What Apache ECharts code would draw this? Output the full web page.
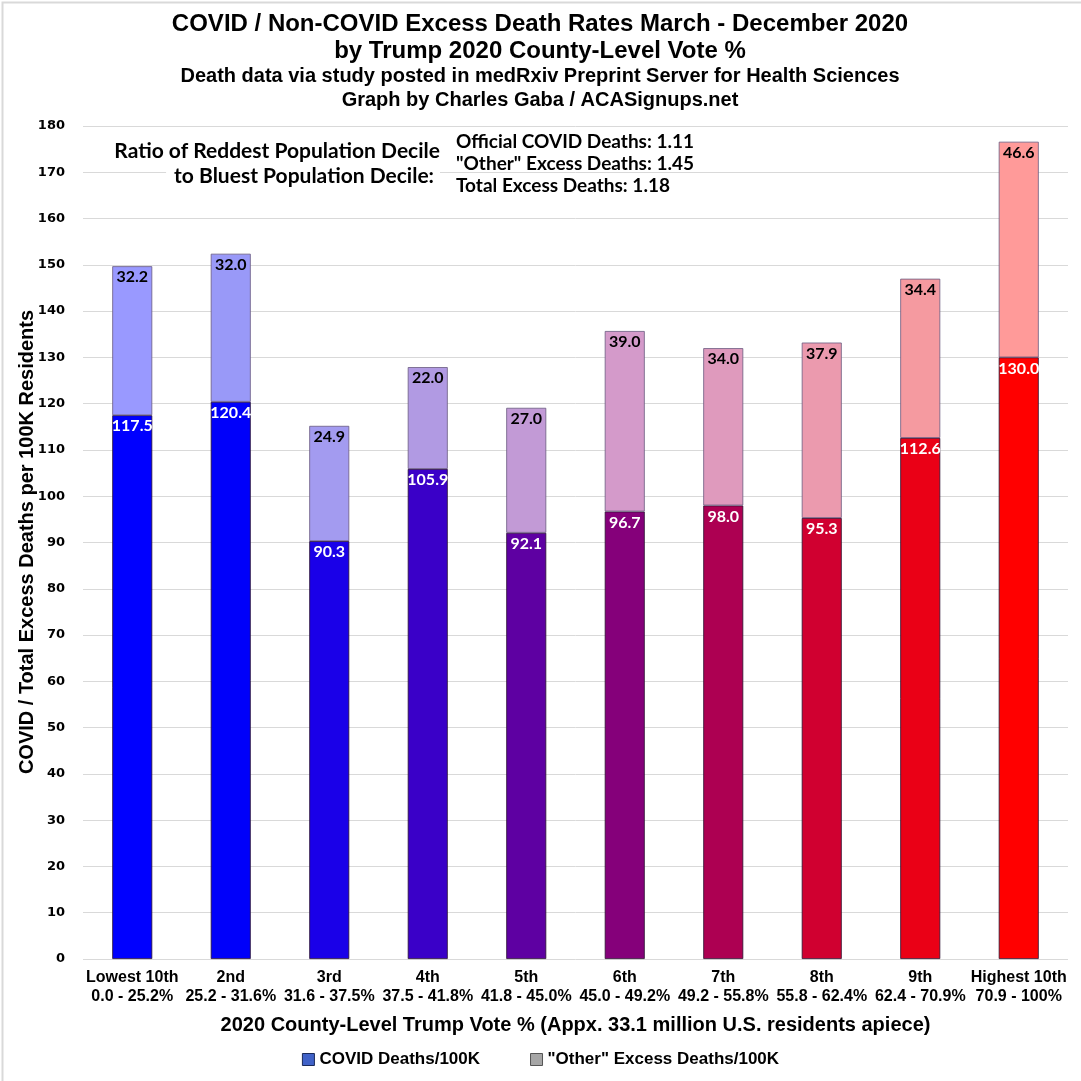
<!DOCTYPE html>
<html><head><meta charset="utf-8">
<script src="https://cdn.jsdelivr.net/npm/echarts@6/dist/echarts.min.js"></script>
<style>html,body{margin:0;padding:0;background:#fff}#c{width:1081px;height:1081px}</style>
</head><body><div id="c"></div>
<script>
const categories = ['Lowest 10th\n0.0 - 25.2%','2nd\n25.2 - 31.6%','3rd\n31.6 - 37.5%','4th\n37.5 - 41.8%','5th\n41.8 - 45.0%','6th\n45.0 - 49.2%','7th\n49.2 - 55.8%','8th\n55.8 - 62.4%','9th\n62.4 - 70.9%','Highest 10th\n70.9 - 100%'];
const covidDeaths = [117.5,120.4,90.3,105.9,92.1,96.7,98.0,95.3,112.6,130.0];
const otherDeaths = [32.2,32.0,24.9,22.0,27.0,39.0,34.0,37.9,34.4,46.6];
const covidColors = ['#0000FF','#0000FA','#1A00E8','#3A00C8','#5E00A2','#85007A','#AD0052','#D00030','#EA0016','#FF0000'];
const otherColors = ['#9999FF','#9999F8','#A39BF0','#B19AE3','#C29AD6','#D49ACA','#DF9ABD','#EB9AAE','#F59AA0','#FF9A99'];
const yTicks = {min:0, max:180, interval:10};

const SANS = '"Liberation Sans",Arial,sans-serif';
const chart = echarts.init(document.getElementById('c'), null, {renderer:'canvas'});
function t(text, x, y, font, align, extra){
  return {type:'text', x:x, y:y, z:100, style:Object.assign({text:text, font:font, fill:'#000', textAlign:align, textVerticalAlign:'middle'}, extra||{})};
}
const yName = t('COVID / Total Excess Deaths per 100K Residents', 27, 542, 'bold 20px '+SANS, 'center');
yName.rotation = Math.PI/2;
chart.setOption({
  backgroundColor:'#fff',
  animation:false,
  graphic:[
    t('COVID / Non-COVID Excess Death Rates March - December 2020', 540, 24, 'bold 24px '+SANS, 'center'),
    t('by Trump 2020 County-Level Vote %', 540, 51, 'bold 24px '+SANS, 'center'),
    t('Death data via study posted in medRxiv Preprint Server for Health Sciences', 540, 76, 'bold 20px '+SANS, 'center'),
    t('Graph by Charles Gaba / ACASignups.net', 540, 100, 'bold 20px '+SANS, 'center'),
    t('Ratio of Reddest Population Decile', 440, 151, 'bold 21px Lato, sans-serif', 'right'),
    t('to Bluest Population Decile:', 440, 176, 'bold 21px Lato, sans-serif', 'right', {backgroundColor:'#fff', padding:[2,6,2,8]}),
    t('Official COVID Deaths: 1.11', 456, 142, 'bold 19px Lato, sans-serif', 'left'),
    t('"Other" Excess Deaths: 1.45', 456, 164, 'bold 19px Lato, sans-serif', 'left'),
    t('Total Excess Deaths: 1.18', 456, 186, 'bold 19px Lato, sans-serif', 'left'),
    yName,
    {type:'rect', left:0, top:0, shape:{x:0,y:0,width:1080,height:1080}, style:{fill:'none', stroke:'#d9d9d9', lineWidth:2}}
  ],
  legend:{
    bottom:8, left:'center', itemWidth:12, itemHeight:12, itemGap:50,
    textStyle:{fontFamily:SANS, fontSize:17, fontWeight:'bold', color:'#000'},
    data:[
      {name:'COVID Deaths/100K', icon:'rect', itemStyle:{color:'#4062C8', borderColor:'#1a2a5a', borderWidth:1}},
      {name:'"Other" Excess Deaths/100K', icon:'rect', itemStyle:{color:'#A6A6A6', borderColor:'#555', borderWidth:1}}
    ]
  },
  grid:{left:83, right:13, top:126, bottom:122},
  xAxis:{
    type:'category', data:categories,
    axisLine:{show:false}, axisTick:{show:false},
    axisLabel:{interval:0, fontFamily:SANS, fontSize:16, fontWeight:'bold', color:'#000', lineHeight:19, margin:9},
    name:'2020 County-Level Trump Vote % (Appx. 33.1 million U.S. residents apiece)',
    nameLocation:'middle', nameGap:56,
    nameTextStyle:{fontFamily:SANS, fontSize:20, fontWeight:'bold', color:'#000'}
  },
  yAxis:{
    type:'value', min:yTicks.min, max:yTicks.max, interval:yTicks.interval,
    axisLine:{show:false}, axisTick:{show:false},
    splitLine:{lineStyle:{color:'#d9d9d9', width:1}},
    axisLabel:{fontFamily:'"DejaVu Sans",Verdana,sans-serif', fontSize:13, fontWeight:'bold', color:'#000', margin:18}
  },
  series:[
    {name:'COVID Deaths/100K', type:'bar', stack:'t', barWidth:40,
     data:covidDeaths.map((v,i)=>({value:v, itemStyle:{color:covidColors[i], borderColor:'#2a1030', borderWidth:0.8}})),
     label:{show:true, position:'insideTop', distance:3, formatter:p=>p.value.toFixed(1), color:'#fff', fontFamily:'Lato, sans-serif', fontWeight:'bold', fontSize:16}},
    {name:'"Other" Excess Deaths/100K', type:'bar', stack:'t', barWidth:40,
     data:otherDeaths.map((v,i)=>({value:v, itemStyle:{color:otherColors[i], borderColor:'#6a5a80', borderWidth:0.8}})),
     label:{show:true, position:'insideTop', distance:3, formatter:p=>p.value.toFixed(1), color:'#000', fontFamily:'Lato, sans-serif', fontWeight:'bold', fontSize:16}}
  ]
});
</script></body></html>
